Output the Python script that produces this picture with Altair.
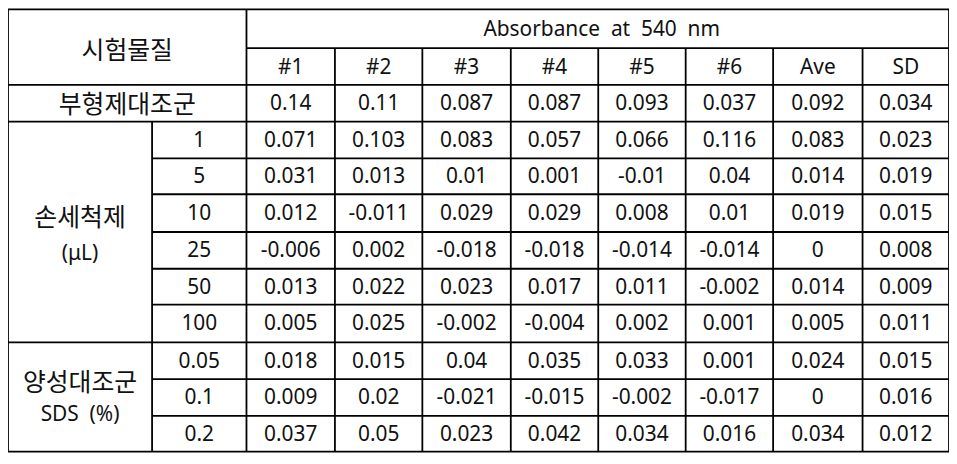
import altair as alt
import pandas as pd

# ---------------- data ----------------
value_columns = ["#1", "#2", "#3", "#4", "#5", "#6", "Ave", "SD"]
top_header = "Absorbance\u00a0\u00a0at\u00a0\u00a0540\u00a0\u00a0nm"
corner_label = "시험물질"

vehicle_label = "부형제대조군"
vehicle_values = [0.14, 0.11, 0.087, 0.087, 0.093, 0.037, 0.092, 0.034]

hand_label = ["손세척제", "(μL)"]
hand_doses = ["1", "5", "10", "25", "50", "100"]
hand_1 = [0.071, 0.103, 0.083, 0.057, 0.066, 0.116, 0.083, 0.023]
hand_5 = [0.031, 0.013, 0.01, 0.001, -0.01, 0.04, 0.014, 0.019]
hand_10 = [0.012, -0.011, 0.029, 0.029, 0.008, 0.01, 0.019, 0.015]
hand_25 = [-0.006, 0.002, -0.018, -0.018, -0.014, -0.014, 0, 0.008]
hand_50 = [0.013, 0.022, 0.023, 0.017, 0.011, -0.002, 0.014, 0.009]
hand_100 = [0.005, 0.025, -0.002, -0.004, 0.002, 0.001, 0.005, 0.011]

sds_label = ["양성대조군", "SDS\u00a0\u00a0(%)"]
sds_doses = ["0.05", "0.1", "0.2"]
sds_005 = [0.018, 0.015, 0.04, 0.035, 0.033, 0.001, 0.024, 0.015]
sds_01 = [0.009, 0.02, -0.021, -0.015, -0.002, -0.017, 0, 0.016]
sds_02 = [0.037, 0.05, 0.023, 0.042, 0.034, 0.016, 0.034, 0.012]

# ---------------- layout (grid edges, in px units of the table) ----------------
col_edges = [0, 145, 240, 329, 417, 506, 594, 682, 770, 860, 947]
row_edges = [0, 39, 76, 113, 150, 186, 224, 261, 297, 335, 372, 409, 445]
W, H = col_edges[-1], row_edges[-1]


def cx(c0, c1):
    return (col_edges[c0] + col_edges[c1]) / 2


def cy(r0, r1):
    return (row_edges[r0] + row_edges[r1]) / 2


def fmt(v):
    return f"{v:g}"


latin = []   # numbers / latin text
korean = []  # hangul labels

korean.append(dict(x=cx(0, 2), y=cy(0, 2) + 3, t=corner_label))
latin.append(dict(x=cx(2, 10) + 4, y=cy(0, 1), t=top_header))
for i, name in enumerate(value_columns):
    latin.append(dict(x=cx(2 + i, 3 + i), y=cy(1, 2) + 1, t=name))

korean.append(dict(x=cx(0, 2), y=cy(2, 3) + 1, t=vehicle_label))
for i, v in enumerate(vehicle_values):
    latin.append(dict(x=cx(2 + i, 3 + i), y=cy(2, 3), t=fmt(v)))

hand_rows = [hand_1, hand_5, hand_10, hand_25, hand_50, hand_100]
for r, (dose, vals) in enumerate(zip(hand_doses, hand_rows)):
    row = 3 + r
    latin.append(dict(x=cx(1, 2), y=cy(row, row + 1), t=dose))
    for i, v in enumerate(vals):
        latin.append(dict(x=cx(2 + i, 3 + i), y=cy(row, row + 1), t=fmt(v)))
mid = cy(3, 9)
korean.append(dict(x=cx(0, 1), y=mid - 15, t=hand_label[0]))
latin.append(dict(x=cx(0, 1), y=mid + 21, t=hand_label[1]))

sds_rows = [sds_005, sds_01, sds_02]
for r, (dose, vals) in enumerate(zip(sds_doses, sds_rows)):
    row = 9 + r
    latin.append(dict(x=cx(1, 2), y=cy(row, row + 1), t=dose))
    for i, v in enumerate(vals):
        latin.append(dict(x=cx(2 + i, 3 + i), y=cy(row, row + 1), t=fmt(v)))
mid2 = cy(9, 12)
korean.append(dict(x=cx(0, 1), y=mid2 - 15, t=sds_label[0]))
latin.append(dict(x=cx(0, 1), y=mid2 + 17, t=sds_label[1]))

# grid lines
lines = []
# full-width horizontals
for r in [0, 2, 3, 9, 12]:
    lines.append(dict(x=0, x2=W, y=row_edges[r], y2=row_edges[r]))
# header split
lines.append(dict(x=col_edges[2], x2=W, y=row_edges[1], y2=row_edges[1]))
# inner group horizontals
for r in [4, 5, 6, 7, 8, 10, 11]:
    lines.append(dict(x=col_edges[1], x2=W, y=row_edges[r], y2=row_edges[r]))
# verticals
for c in [0, 2, 10]:
    lines.append(dict(x=col_edges[c], x2=col_edges[c], y=0, y2=H))
lines.append(dict(x=col_edges[1], x2=col_edges[1], y=row_edges[3], y2=H))
for c in range(3, 10):
    lines.append(dict(x=col_edges[c], x2=col_edges[c], y=row_edges[1], y2=H))

xs = alt.Scale(domain=[0, W], range=[0, W])
ys = alt.Scale(domain=[0, H], range=[0, H])

rules = alt.Chart(pd.DataFrame(lines)).mark_rule(color="black", strokeWidth=1.8).encode(
    x=alt.X("x:Q", scale=xs, axis=None),
    x2="x2:Q",
    y=alt.Y("y:Q", scale=ys, axis=None),
    y2="y2:Q",
)

lat = alt.Chart(pd.DataFrame(latin)).mark_text(
    font="Noto Sans, Noto Sans CJK KR", fontSize=21, color="#111111",
    align="center", baseline="middle", dy=1,
).encode(x=alt.X("x:Q", scale=xs, axis=None), y=alt.Y("y:Q", scale=ys, axis=None), text="t:N")

kor = alt.Chart(pd.DataFrame(korean)).mark_text(
    font="Noto Sans CJK KR", fontSize=25, color="#111111",
    align="center", baseline="middle", dy=1,
).encode(x=alt.X("x:Q", scale=xs, axis=None), y=alt.Y("y:Q", scale=ys, axis=None), text="t:N")

chart = alt.layer(rules, lat, kor).properties(
    width=W, height=H, padding=0, autosize="none", background="white"
).configure_view(stroke=None)

chart.save("out.html", embed_options={"renderer": "svg", "actions": False})
